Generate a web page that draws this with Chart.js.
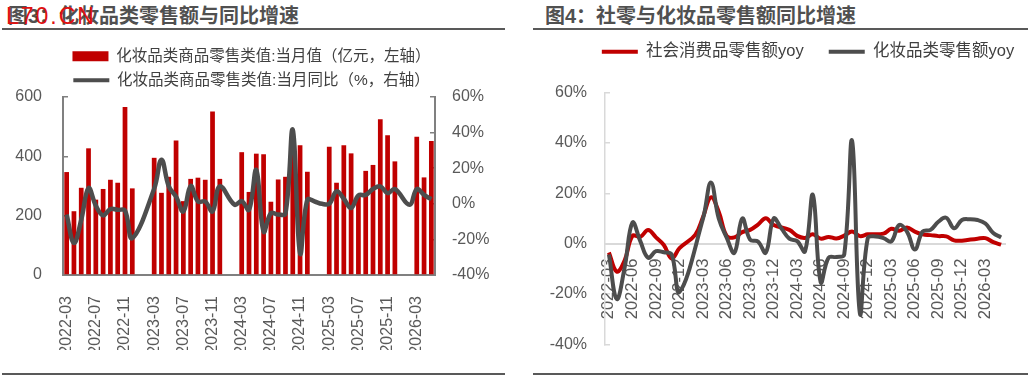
<!DOCTYPE html>
<html>
<head>
<meta charset="utf-8">
<script src="https://cdn.jsdelivr.net/npm/chart.js@4.4.1/dist/chart.umd.min.js"></script>
<style>
html, body { margin: 0; padding: 0; background: #fff; }
body { width: 1028px; height: 377px; position: relative; overflow: hidden; font-family: "Liberation Sans", "Noto Sans CJK SC", sans-serif; }
.title { position: absolute; top: 5px; font-size: 20px; font-weight: bold; color: #505050; line-height: 22px; white-space: nowrap; }
.rule { position: absolute; height: 2px; background: #595959; }
.box { position: absolute; top: 0; }
.stamp { position: absolute; left: 6px; top: 4px; font-size: 23px; color: #e01010; letter-spacing: 2px; line-height: 24px; }
</style>
</head>
<body>
<div class="title" style="left:8px">图3：化妆品类零售额与同比增速</div>
<div class="stamp">L70.CN</div>
<div class="title" style="left:545px">图4：社零与化妆品零售额同比增速</div>
<div class="rule" style="left:2px;width:503px;top:28px"></div>
<div class="rule" style="left:533px;width:495px;top:28px"></div>
<div class="rule" style="left:2px;width:503px;top:373px"></div>
<div class="rule" style="left:533px;width:495px;top:373px"></div>
<div class="box" style="left:0;width:520px;height:350px"><canvas id="left"></canvas></div>
<div class="box" style="left:520px;width:508px;height:377px"><canvas id="right"></canvas></div>
<script>
const months = [
  '2022-03', '2022-04', '2022-05', '2022-06', '2022-07', '2022-08', '2022-09', '2022-10', '2022-11', '2022-12',
  '2023-01', '2023-02', '2023-03', '2023-04', '2023-05', '2023-06', '2023-07', '2023-08', '2023-09', '2023-10', '2023-11', '2023-12',
  '2024-01', '2024-02', '2024-03', '2024-04', '2024-05', '2024-06', '2024-07', '2024-08', '2024-09', '2024-10', '2024-11', '2024-12',
  '2025-01', '2025-02', '2025-03', '2025-04', '2025-05', '2025-06', '2025-07', '2025-08', '2025-09', '2025-10', '2025-11', '2025-12',
  '2026-01', '2026-02', '2026-03', '2026-04', '2026-05'
];

// 化妆品类零售额 当月值（亿元）
const cosmeticsValue = [
  347, 215, 294, 427, 254, 290, 321, 311, 566, 292,
  null, null, 395, 277, 331, 453, 249, 324, 328, 321, 551, 324,
  null, null, 414, 280, 409, 407, 247, 322, 331, 420, 437, 348,
  null, null, 432, 311, 437, 410, 268, 351, 371, 525, 471, 383,
  null, null, 466, 329, 452
];

// 图3 同比（%）
const cosmeticsYoyLeft = [
  -6, -22, -9, 8.8, -1, -6.5, -3, -3.4, -3.8, -19.3,
  null, null, 8.5, 24.8, 9.8, 4, -4.3, 10, 1.3, 1.3, -4.3, 9.8,
  null, -0.5, 1.5, -3.4, 19, -15.6, -5.3, -6, -5.5, 41.6, -27.8, 2.3,
  1.3, 0, 0, 7, 2.8, -2.4, 4.7, 5, 8.3, 9.8, 6, 8.3,
  null, -0.5, 8.3, 5, 2.6
];

// 图4 化妆品类零售额yoy（%）
const cosmeticsYoy = [
  -4.3, -22, -9.5, 8.4, 1, -5.6, -3, -3.4, -4.3, -19.2,
  null, null, 10, 24.3, 10, 2.5, -3.6, 10, 1.6, 0.9, -3.6, 10,
  6, 2, 1, -3, 19.4, -15.3, -5.6, -5.3, -4.3, 40.9, -27.7, 2.2,
  2.9, 2.2, 0.9, 7.4, 4.8, -2.3, 4.8, 5.5, 8.7, 10.3, 6.1, 9.4,
  9.7, 9.4, 8, 4.2, 2.5
];

// 图4 社会消费品零售额yoy（%）
const retailYoy = [
  -3.5, -11.1, -6.7, 3.1, 2.7, 5.4, 2.5, -0.5, -5.9, -1.8,
  null, 3.5, 10.6, 18.4, 12.7, 3.1, 2.5, 4.6, 5.5, 7.6, 10.1, 7.4,
  null, 5.5, 3.1, 2.3, 3.7, 2.0, 2.7, 2.1, 3.2, 4.8, 3.0, 3.7,
  null, 4.0, 5.9, 5.1, 6.4, 4.8, 3.7, 3.4, 3.0, 2.9, 1.3, 1.2,
  null, 2.0, 2.2, 0.6, -0.4
];

const leftTicks = [0, 200, 400, 600];
const rightTicks = [-40, -20, 0, 20, 40, 60];

Chart.defaults.font.family = '"Liberation Sans", "Noto Sans CJK SC", sans-serif';
Chart.defaults.color = '#595959';
Chart.defaults.animation = false;

// fixed legend height (plot area starts where the picture has it) and optional sideways shift
const legendPlace = {
  id: 'legendPlace',
  beforeLayout(chart, args, opts) {
    const lg = chart.legend;
    if (lg && !lg._fixed) {
      const fit = lg.fit;
      lg.fit = function () {
        fit.call(this);
        this.height = opts.height;
      };
      lg._fixed = true;
    }
  },
  afterLayout(chart, args, opts) {
    if (opts.shift) {
      chart.legend.left += opts.shift;
      chart.legend.right += opts.shift;
    }
  }
};

function legendItems(chart) {
  const items = Chart.defaults.plugins.legend.labels.generateLabels(chart);
  items.forEach(item => {
    const ds = chart.data.datasets[item.datasetIndex];
    if (ds.type === 'line' || chart.config.type === 'line') {
      item.pointStyle = 'line';
      item.strokeStyle = ds.borderColor;
      item.lineWidth = 4;
    } else {
      item.pointStyle = 'rect';
      item.lineWidth = 0;
    }
  });
  return items.sort((a, b) => a.datasetIndex - b.datasetIndex);
}

new Chart(document.getElementById('left'), {
  type: 'bar',
  data: {
    labels: months,
    datasets: [
      {
        label: '化妆品类商品零售类值:当月值（亿元，左轴）',
        data: cosmeticsValue,
        backgroundColor: '#c00000',
        yAxisID: 'y',
        order: 1,
        categoryPercentage: 0.9,
        barPercentage: 0.72
      },
      {
        type: 'line',
        label: '化妆品类商品零售类值:当月同比（%，右轴）',
        data: cosmeticsYoyLeft,
        borderColor: '#4d4d4d',
        borderWidth: 4.5,
        pointRadius: 0,
        tension: 0.4,
        spanGaps: true,
        yAxisID: 'y1',
        order: 0
      }
    ]
  },
  options: {
    responsive: true,
    maintainAspectRatio: false,
    layout: { padding: { top: 40, left: 0, right: 17, bottom: 0 } },
    plugins: {
      legend: {
        labels: {
          usePointStyle: true,
          pointStyleWidth: 36,
          boxHeight: 10,
          padding: 8.5,
          color: '#404040',
          font: { size: 15.5 },
          generateLabels: legendItems
        }
      },
      legendPlace: { height: 57 },
      tooltip: { enabled: false }
    },
    scales: {
      x: {
        grid: { display: false },
        border: { color: '#808080', width: 2 },
        ticks: {
          autoSkip: false, maxRotation: 90, minRotation: 90, padding: 13,
          font: { size: 16 },
          callback: (v, i) => (i % 4 === 0 ? months[i] : '')
        },
        afterFit: s => { s.height = 75; }
      },
      y: {
        position: 'left',
        min: leftTicks[0],
        max: leftTicks[leftTicks.length - 1],
        ticks: { stepSize: 200, padding: 26, font: { size: 16 } },
        grid: { drawOnChartArea: false, tickLength: -5, color: '#808080', lineWidth: 1.5 },
        border: { color: '#808080', width: 2 },
        afterFit: s => { s.width = 63; }
      },
      y1: {
        position: 'right',
        min: rightTicks[0],
        max: rightTicks[rightTicks.length - 1],
        ticks: { stepSize: 20, padding: 22, font: { size: 16 }, callback: v => v + '%' },
        grid: { drawOnChartArea: false, tickLength: -5, color: '#808080', lineWidth: 1.5 },
        border: { color: '#808080', width: 2 },
        afterFit: s => { s.width = 68; }
      }
    }
  },
  plugins: [legendPlace]
});

new Chart(document.getElementById('right'), {
  type: 'line',
  data: {
    labels: months,
    datasets: [
      {
        label: '社会消费品零售额yoy',
        data: retailYoy,
        borderColor: '#c00000',
        borderWidth: 4,
        pointRadius: 0,
        tension: 0.4,
        spanGaps: true,
        order: 1
      },
      {
        label: '化妆品类零售额yoy',
        data: cosmeticsYoy,
        borderColor: '#4d4d4d',
        borderWidth: 4,
        pointRadius: 0,
        tension: 0.4,
        spanGaps: true,
        order: 0
      }
    ]
  },
  options: {
    responsive: true,
    maintainAspectRatio: false,
    layout: { padding: { top: 18.5, left: 0, right: 10, bottom: 28 } },
    plugins: {
      legend: {
        labels: {
          usePointStyle: true,
          pointStyleWidth: 36,
          padding: 25,
          color: '#404040',
          font: { size: 16.5 },
          generateLabels: legendItems
        }
      },
      legendPlace: { height: 74.1, shift: 39 },
      tooltip: { enabled: false }
    },
    scales: {
      x: {
        position: { y: 0 },
        offset: true,
        grid: { display: false },
        border: { color: '#d9d9d9', width: 2 },
        ticks: {
          autoSkip: false, maxRotation: 90, minRotation: 90, padding: 7,
          font: { size: 16.5 },
          callback: (v, i) => (i % 3 === 0 ? months[i] : '')
        }
      },
      y: {
        min: rightTicks[0],
        max: rightTicks[rightTicks.length - 1],
        ticks: { stepSize: 20, padding: 23, font: { size: 16 }, callback: v => v + '%' },
        grid: { drawOnChartArea: false, tickLength: -5, color: '#d9d9d9', lineWidth: 1.5 },
        border: { color: '#d9d9d9', width: 1.5 },
        afterFit: s => { s.width = 85; }
      }
    }
  },
  plugins: [legendPlace]
});
</script>
</body>
</html>
